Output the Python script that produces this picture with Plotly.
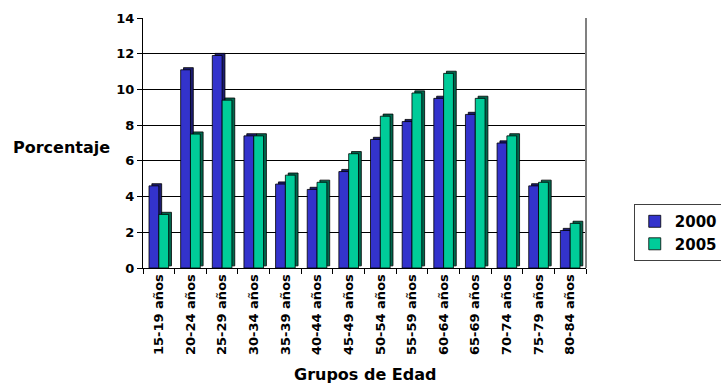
import plotly.graph_objects as go

categories = ["15-19 años", "20-24 años", "25-29 años", "30-34 años", "35-39 años",
              "40-44 años", "45-49 años", "50-54 años", "55-59 años", "60-64 años",
              "65-69 años", "70-74 años", "75-79 años", "80-84 años"]
values_2000 = [4.6, 11.1, 11.9, 7.4, 4.7, 4.4, 5.4, 7.2, 8.2, 9.5, 8.6, 7.0, 4.6, 2.1]
values_2005 = [3.0, 7.5, 9.4, 7.4, 5.2, 4.8, 6.4, 8.5, 9.8, 10.9, 9.5, 7.4, 4.8, 2.5]
y_ticks = [0, 2, 4, 6, 8, 10, 12, 14]

FONT = "DejaVu Sans, Arial, sans-serif"
front = {"2000": "#3333CC", "2005": "#00CC99"}
side = {"2000": "#1c1c70", "2005": "#00684e"}

W = 0.31      # bar width in category units
DX = 0.09     # 3D depth, x
DY = 0.12     # 3D depth, y

fig = go.Figure()
for name, vals, off in (("2000", values_2000, -W), ("2005", values_2005, 0.0)):
    # depth (side + top) face
    fig.add_trace(go.Bar(
        x=categories, y=vals, base=DY, offset=off + DX, width=W,
        marker=dict(color=side[name], line=dict(color="#000000", width=0.8)),
        showlegend=False, hoverinfo="skip"))
    # front face
    fig.add_trace(go.Bar(
        x=categories, y=vals, offset=off, width=W, name=name,
        marker=dict(color=front[name], line=dict(color="#000000", width=0.8))))

fig.update_layout(
    width=721, height=385,
    margin=dict(l=143, r=135, t=18, b=117),
    barmode="overlay",
    paper_bgcolor="white", plot_bgcolor="white",
    font=dict(family=FONT, color="black", weight="bold"),
    showlegend=True,
    legend=dict(xref="container", yref="container", x=0.879, y=0.47,
                xanchor="left", yanchor="top",
                bordercolor="#404040", borderwidth=1,
                font=dict(family=FONT, size=15, color="black", weight="bold"),
                traceorder="normal", itemwidth=30),
    xaxis=dict(type="category", tickangle=-90,
               tickfont=dict(family=FONT, size=13, weight="bold"),
               showline=True, linecolor="black", linewidth=1,
               ticks="outside", tickson="boundaries", ticklen=5, tickcolor="black",
               showgrid=False, fixedrange=True),
    yaxis=dict(range=[0, 14], tickvals=y_ticks,
               tickfont=dict(family=FONT, size=13, weight="bold"),
               showline=True, linecolor="black", linewidth=1,
               ticks="outside", ticklen=5, tickcolor="black",
               showgrid=True, gridcolor="black", gridwidth=1,
               zeroline=False),
    annotations=[
        dict(text="Porcentaje", xref="paper", yref="paper", x=-0.298, y=0.484,
             xanchor="left", yanchor="middle", showarrow=False,
             font=dict(family=FONT, size=16, weight="bold")),
        dict(text="Grupos de Edad", xref="paper", yref="paper", x=0.501, y=-0.424,
             xanchor="center", yanchor="middle", showarrow=False,
             font=dict(family=FONT, size=16, weight="bold")),
    ],
    shapes=[
        dict(type="line", xref="paper", yref="paper", x0=1, x1=1, y0=0, y1=1,
             line=dict(color="#808080", width=2)),
    ],
)

fig.write_html("out.html")
